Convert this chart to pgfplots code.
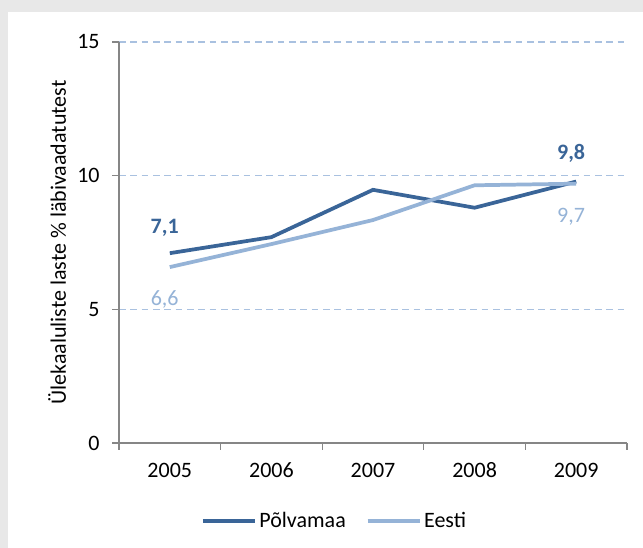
\documentclass[border=0pt]{standalone}
\usepackage{fontspec}
\setmainfont{Carlito}
\usepackage{pgfplots}
\pgfplotsset{compat=1.18}
\definecolor{dark}{HTML}{3A6598}
\definecolor{light}{HTML}{95B3D7}
\definecolor{gridc}{HTML}{A9C1E0}
\definecolor{axc}{HTML}{868686}
\definecolor{bgc}{HTML}{E8E8E8}
\begin{document}
\begin{tikzpicture}[x=1pt,y=1pt]
\fill[bgc] (0,0) rectangle (482.25,411);
\fill[white] (6,0) rectangle (482.25,402);
\begin{axis}[
  at={(89.25pt,78.75pt)}, anchor=south west,
  scale only axis, width=381pt, height=300.75pt,
  xmin=-0.5, xmax=4.5, ymin=0, ymax=15,
  /pgf/number format/assume math mode=true,
  axis x line*=bottom, axis y line*=left,
  axis line style={axc, line width=1pt},
  every tick/.style={axc, line width=1pt},
  tick align=outside,
  xtick={0,1,2,3,4},
  xticklabels={2005,2006,2007,2008,2009},
  major x tick style={draw=none},
  minor xtick={-0.5,0.5,1.5,2.5,3.5,4.5},
  minor tick length=5pt,
  major tick length=5pt,
  ytick={0,5,10,15},
  ymajorgrids,
  major grid style={draw=gridc, line width=1pt, dash pattern=on 5pt off 3.5pt},
  font=\fontsize{16.5}{19}\selectfont,
  tick label style={font=\fontsize{16.5}{19}\selectfont},
  xticklabel style={anchor=base, yshift=-21pt},
  yticklabel style={xshift=-6pt},
  ylabel={Ülekaaluliste laste \% läbivaadatutest},
  every axis y label/.style={at={(axis description cs:-0.122,0.5)},rotate=90,anchor=center},
  legend columns=2,
  legend style={draw=none, fill=none, at={(axis description cs:0.425,-0.195)}, anchor=center,
    font=\fontsize{16.5}{19}\selectfont, /tikz/every even column/.append style={column sep=13pt}},
  legend image code/.code={\draw[#1] (0pt,0pt) -- (39pt,0pt);},
  clip=false,
]
\addplot[dark, line width=2.8pt] coordinates {(0,7.1) (1,7.7) (2,9.47) (3,8.8) (4,9.78)};
\addlegendentry{Põlvamaa}
\addplot[light, line width=2.8pt] coordinates {(0,6.58) (1,7.44) (2,8.34) (3,9.64) (4,9.7)};
\addlegendentry{Eesti}
\node[dark, font=\fontsize{16.5}{19}\selectfont\bfseries] at (axis cs:-0.05,8.04) {7,1};
\node[dark, font=\fontsize{16.5}{19}\selectfont\bfseries] at (axis cs:3.95,10.85) {9,8};
\node[light, font=\fontsize{16.5}{19}\selectfont] at (axis cs:3.95,8.45) {9,7};
\node[light, font=\fontsize{16.5}{19}\selectfont] at (axis cs:-0.05,5.35) {6,6};
\end{axis}
\end{tikzpicture}
\end{document}
